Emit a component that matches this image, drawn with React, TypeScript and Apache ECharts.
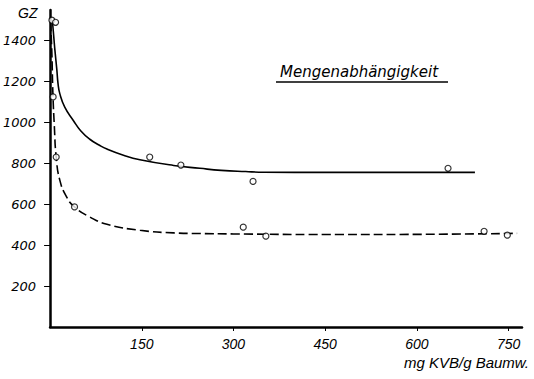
import React, { useEffect, useRef } from "react";
import * as echarts from "echarts";

const yTicks = [200, 400, 600, 800, 1000, 1200, 1400];
const xTicks = [150, 300, 450, 600, 750];

const solidCurveX = [4, 6, 8, 11, 13, 16, 24, 38, 50, 65, 80, 93, 120, 147, 202, 245, 280, 320, 350, 450, 550, 650, 695];
const solidCurveY = [1490, 1420, 1350, 1260, 1190, 1140, 1075, 1010, 960, 918, 890, 870, 840, 818, 790, 776, 766, 760, 757, 756, 756, 756, 756];

const dashedCurveX = [1, 3, 4.5, 7, 10, 16, 27, 40, 65, 93, 147, 202, 245, 300, 450, 600, 764];
const dashedCurveY = [1490, 1330, 1150, 980, 831, 717, 636, 587, 538, 502, 473, 460, 457, 455, 452, 453, 458];

const solidPtsX = [3, 9, 163, 214, 332, 651];
const solidPtsY = [1500, 1490, 831, 792, 712, 776];

const dashedPtsX = [5, 10, 40, 316, 353, 710, 748];
const dashedPtsY = [1125, 831, 587, 488, 444, 468, 449];

const FONT = "Liberation Sans";

export default function App() {
  const ref = useRef<HTMLDivElement>(null);
  useEffect(() => {
    const chart = echarts.init(ref.current!, null, { renderer: "svg" });
    const zip = (xs: number[], ys: number[]) => xs.map((x, i) => [x, ys[i]]);
    chart.setOption({
      animation: false,
      backgroundColor: "#ffffff",
      grid: { left: 50, right: 12, top: 10, bottom: 52 },
      xAxis: {
        type: "value",
        min: 0,
        max: 772,
        interval: 150,
        axisLine: { show: true, lineStyle: { color: "#000", width: 2.5 } },
        axisTick: { show: true, length: 4, lineStyle: { color: "#000", width: 1 }, customValues: xTicks },
        axisLabel: {
          customValues: xTicks,
          formatter: (v: number) => String(v),
          color: "#000",
          fontSize: 14,
          fontStyle: "italic",
          fontFamily: FONT,
          margin: 10,
        },
        splitLine: { show: false },
      },
      yAxis: {
        type: "value",
        min: 0,
        max: 1550,
        interval: 200,
        axisLine: { show: true, lineStyle: { color: "#000", width: 2.5 } },
        axisTick: { show: true, length: 6, lineStyle: { color: "#000", width: 1 }, customValues: yTicks },
        axisLabel: {
          customValues: yTicks,
          formatter: (v: number) => String(v),
          color: "#000",
          fontSize: 13,
          fontStyle: "italic",
          fontFamily: "DejaVu Sans",
          margin: 14,
        },
        splitLine: { show: false },
      },
      series: [
        {
          type: "line",
          data: zip(solidCurveX, solidCurveY),
          smooth: 0.5,
          showSymbol: false,
          lineStyle: { color: "#000", width: 1.6 },
        },
        {
          type: "line",
          data: zip(dashedCurveX, dashedCurveY),
          smooth: 0.5,
          showSymbol: false,
          lineStyle: { color: "#000", width: 1.6, type: [9, 4] },
        },
        {
          type: "scatter",
          data: zip(solidPtsX, solidPtsY),
          symbol: "circle",
          symbolSize: 6,
          itemStyle: { color: "#fff", borderColor: "#000", borderWidth: 1.2 },
          z: 5,
        },
        {
          type: "scatter",
          data: zip(dashedPtsX, dashedPtsY),
          symbol: "circle",
          symbolSize: 6,
          itemStyle: { color: "#fff", borderColor: "#000", borderWidth: 1.2 },
          z: 5,
        },
      ],
      graphic: [
        {
          type: "text",
          left: 18,
          top: 6,
          style: { text: "GZ", fill: "#000", fontSize: 14, fontStyle: "italic", fontFamily: FONT },
        },
        {
          type: "text",
          right: 5,
          top: 355,
          style: { text: "mg KVB/g Baumw.", fill: "#000", fontSize: 15, fontStyle: "italic", fontFamily: FONT },
        },
        {
          type: "text",
          left: 280,
          top: 64,
          style: { text: "Mengenabhängigkeit", fill: "#000", fontSize: 15, fontStyle: "italic", fontFamily: "DejaVu Sans" },
        },
        {
          type: "line",
          shape: { x1: 276, y1: 82, x2: 448, y2: 82 },
          style: { stroke: "#000", lineWidth: 1.3 },
        },
      ],
    });
    return () => chart.dispose();
  }, []);
  return <div ref={ref} style={{ position: "fixed", left: 0, top: 0, width: 534, height: 379 }} />;
}
